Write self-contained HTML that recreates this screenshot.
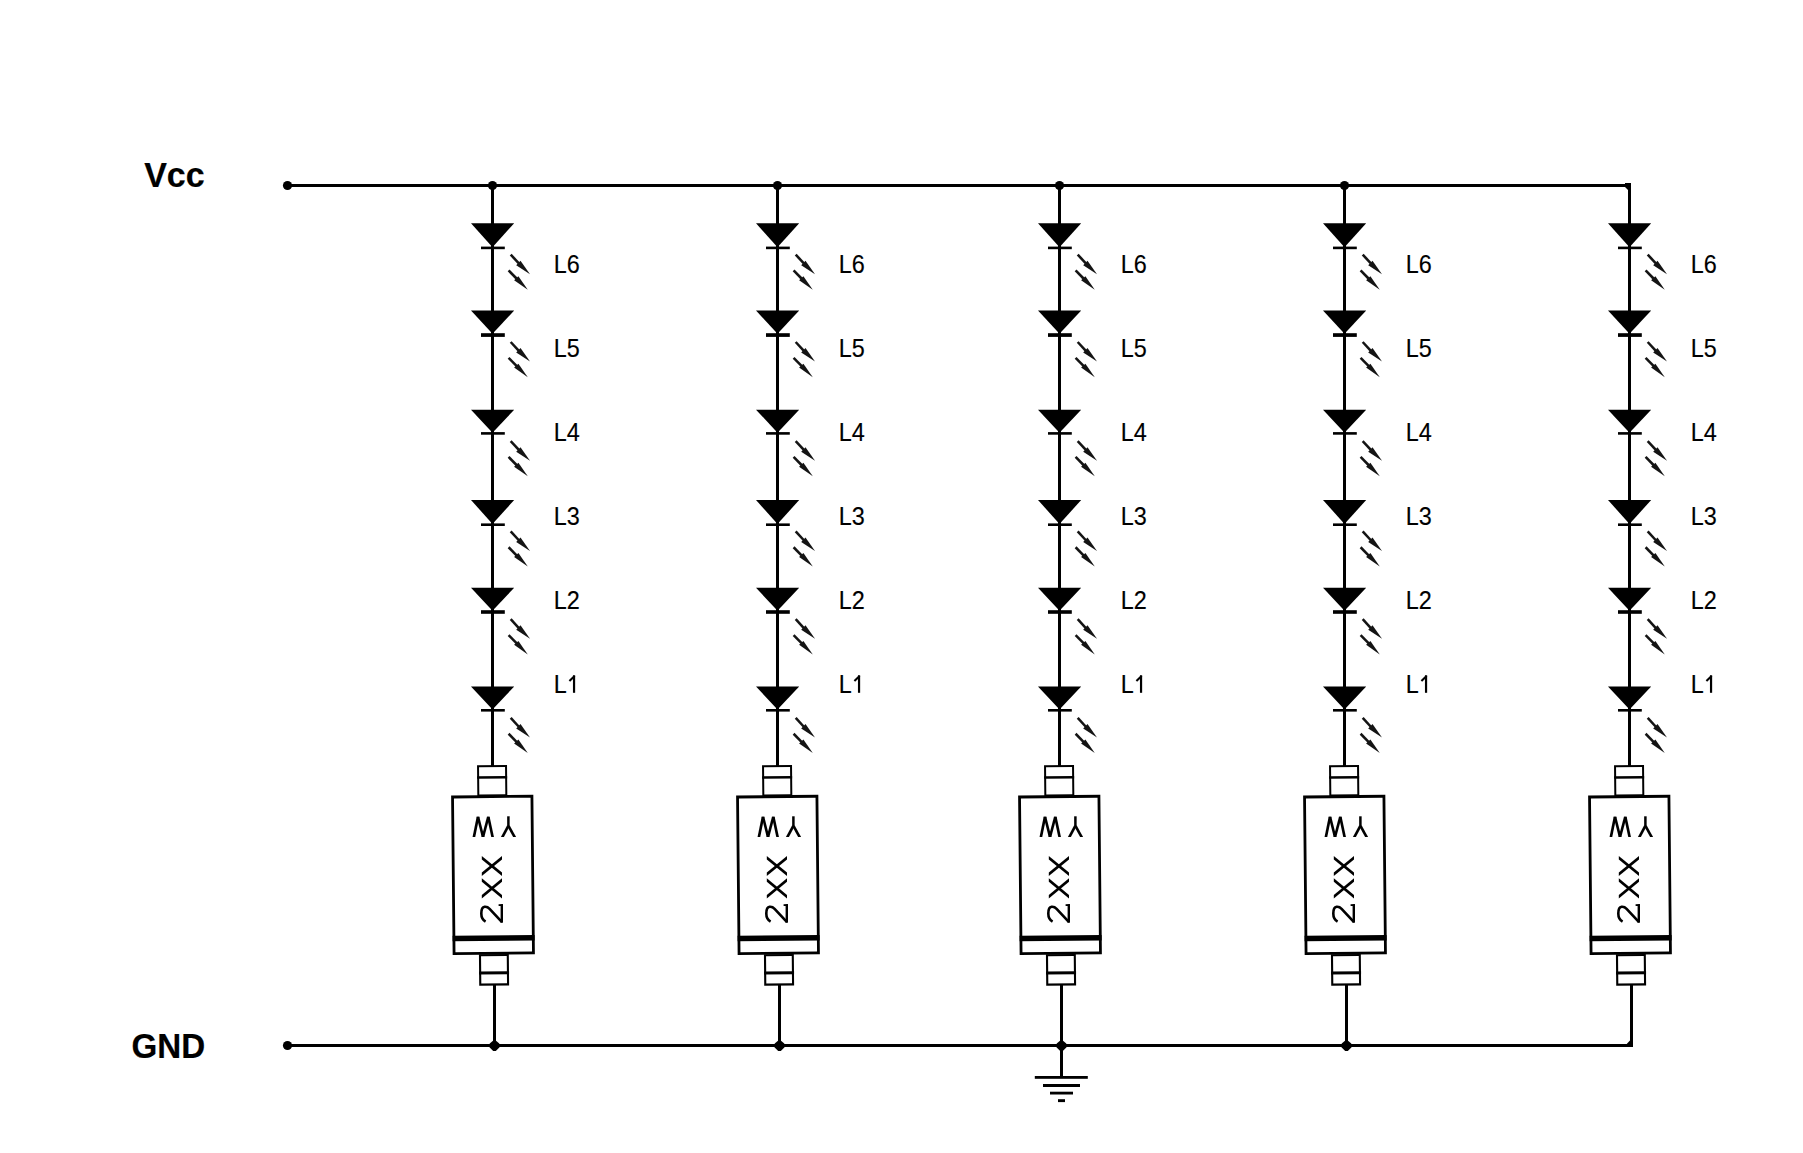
<!DOCTYPE html>
<html><head><meta charset="utf-8"><style>
html,body{margin:0;padding:0;background:#fff;width:1803px;height:1153px;overflow:hidden}
svg{display:block}
.lb{font-family:"Liberation Sans",sans-serif;font-size:24px;fill:#000;stroke:#000;stroke-width:0.15px}
.big{font-family:"Liberation Sans",sans-serif;font-size:34px;font-weight:bold;fill:#000;stroke:#000;stroke-width:0.2px}
</style></head><body>
<svg width="1803" height="1153" viewBox="0 0 1803 1153">
<rect x="0" y="0" width="1803" height="1153" fill="#fff"/>
<text transform="translate(144.2 187) scale(1 1.03)" class="big">Vcc</text>
<text transform="translate(131.5 1057.8) scale(0.975 1.03)" class="big">GND</text>
<rect x="287.5" y="184" width="1343.5" height="3"/>
<circle cx="287.5" cy="185.5" r="4.6"/>
<circle cx="492.5" cy="185.5" r="4.6"/>
<circle cx="777.5" cy="185.5" r="4.6"/>
<circle cx="1059.5" cy="185.5" r="4.6"/>
<circle cx="1344.5" cy="185.5" r="4.6"/>
<polygon points="1625,183 1631,183 1631,190 1628,190 1625,187"/>
<g transform="translate(0 0)">
<rect x="491" y="185" width="3" height="581"/>
<polygon points="471,223.2 514.2,223.2 492.5,247.2"/>
<rect x="481" y="246.6" width="23.8" height="2.6"/>
<line x1="510.7" y1="254.60" x2="518.85" y2="263.45" stroke="#141414" stroke-width="2.55"/>
<polygon fill="#141414" points="520.50,260.70 530.00,274.20 516.20,265.20"/>
<line x1="508.6" y1="270.45" x2="516.75" y2="278.75" stroke="#141414" stroke-width="2.55"/>
<polygon fill="#141414" points="518.40,276.30 527.80,289.80 514.10,280.20"/>
<polygon points="471,310.6 514.2,310.6 492.5,333.8"/>
<rect x="481" y="333.2" width="23.8" height="3.7"/>
<line x1="510.7" y1="342.00" x2="518.85" y2="350.85" stroke="#141414" stroke-width="2.55"/>
<polygon fill="#141414" points="520.50,348.10 530.00,361.60 516.20,352.60"/>
<line x1="508.6" y1="357.85" x2="516.75" y2="366.15" stroke="#141414" stroke-width="2.55"/>
<polygon fill="#141414" points="518.40,363.70 527.80,377.20 514.10,367.60"/>
<polygon points="471,409.7 514.2,409.7 492.5,432.7"/>
<rect x="481" y="432.1" width="23.8" height="2.6"/>
<line x1="510.7" y1="441.10" x2="518.85" y2="449.95" stroke="#141414" stroke-width="2.55"/>
<polygon fill="#141414" points="520.50,447.20 530.00,460.70 516.20,451.70"/>
<line x1="508.6" y1="456.95" x2="516.75" y2="465.25" stroke="#141414" stroke-width="2.55"/>
<polygon fill="#141414" points="518.40,462.80 527.80,476.30 514.10,466.70"/>
<polygon points="471,500.0 514.2,500.0 492.5,524.0"/>
<rect x="481" y="523.4" width="23.8" height="2.6"/>
<line x1="510.7" y1="531.40" x2="518.85" y2="540.25" stroke="#141414" stroke-width="2.55"/>
<polygon fill="#141414" points="520.50,537.50 530.00,551.00 516.20,542.00"/>
<line x1="508.6" y1="547.25" x2="516.75" y2="555.55" stroke="#141414" stroke-width="2.55"/>
<polygon fill="#141414" points="518.40,553.10 527.80,566.60 514.10,557.00"/>
<polygon points="471,587.8 514.2,587.8 492.5,610.8"/>
<rect x="481" y="610.2" width="23.8" height="3.6"/>
<line x1="510.7" y1="619.20" x2="518.85" y2="628.05" stroke="#141414" stroke-width="2.55"/>
<polygon fill="#141414" points="520.50,625.30 530.00,638.80 516.20,629.80"/>
<line x1="508.6" y1="635.05" x2="516.75" y2="643.35" stroke="#141414" stroke-width="2.55"/>
<polygon fill="#141414" points="518.40,640.90 527.80,654.40 514.10,644.80"/>
<polygon points="471,686.5 514.2,686.5 492.5,709.6"/>
<rect x="481" y="709.0" width="23.8" height="2.6"/>
<line x1="510.7" y1="717.90" x2="518.85" y2="726.75" stroke="#141414" stroke-width="2.55"/>
<polygon fill="#141414" points="520.50,724.00 530.00,737.50 516.20,728.50"/>
<line x1="508.6" y1="733.75" x2="516.75" y2="742.05" stroke="#141414" stroke-width="2.55"/>
<polygon fill="#141414" points="518.40,739.60 527.80,753.10 514.10,743.50"/>
<text transform="translate(553.8 272.6) scale(0.975 1.045)" class="lb">L6</text>
<text transform="translate(553.8 356.6) scale(0.975 1.045)" class="lb">L5</text>
<text transform="translate(553.8 440.6) scale(0.975 1.045)" class="lb">L4</text>
<text transform="translate(553.8 524.6) scale(0.975 1.045)" class="lb">L3</text>
<text transform="translate(553.8 608.6) scale(0.975 1.045)" class="lb">L2</text>
<text transform="translate(553.8 692.6) scale(0.975 1.045)" class="lb">L</text>
<rect x="572.95" y="675.3" width="2.2" height="17.5"/>
<line x1="574.6" y1="675.9" x2="569.4" y2="680.9" stroke="#000" stroke-width="2.1"/>
<g transform="rotate(-0.56 493 875)">
<rect x="479.1" y="766.2" width="28" height="29.2" fill="none" stroke="#000" stroke-width="2"/>
<rect x="478.1" y="776.2" width="30" height="2.4"/>
<rect x="453.3" y="796.6" width="79.4" height="156.7" fill="none" stroke="#000" stroke-width="2.8"/>
<rect x="452" y="935.3" width="82" height="5.5"/>
<rect x="479.2" y="955.1" width="27.8" height="29.4" fill="none" stroke="#000" stroke-width="2.1"/>
<rect x="478.1" y="971.4" width="30" height="3"/>
</g>
<polygon points="472.55,837.00 475.25,837.00 479.35,816.70 476.65,816.70"/>
<polygon points="476.65,816.70 479.35,816.70 484.35,837.00 481.65,837.00"/>
<polygon points="481.65,837.00 484.35,837.00 489.65,816.70 486.95,816.70"/>
<polygon points="486.95,816.70 489.65,816.70 493.95,837.00 491.25,837.00"/>
<polygon points="507.15,816.30 509.65,816.30 509.65,827.80 507.15,827.80"/>
<polygon points="506.90,825.80 509.90,825.80 503.90,837.00 500.90,837.00"/>
<polygon points="506.90,825.80 509.90,825.80 516.10,837.00 513.10,837.00"/>
<polygon points="481.8,855.9 481.8,859.4 502,876.1 502,872.6"/>
<polygon points="502,855.9 502,859.4 481.8,876.1 481.8,872.6"/>
<polygon points="481.8,878.2 481.8,881.7 502,898.4 502,894.9"/>
<polygon points="502,878.2 502,881.7 481.8,898.4 481.8,894.9"/>
<path d="M502 922.2 L489.6 908.8 C488.2 907.3 486.6 906.6 484.6 906.8 C482.2 907.2 481.3 909.8 481.3 913.4 C481.3 917.4 482.8 920 485.6 921.6" fill="none" stroke="#000" stroke-width="2.6"/>
<rect x="500.6" y="904.2" width="2.4" height="18.5"/>
<rect x="498.6" y="904.2" width="4.4" height="1.8"/>
<rect x="493" y="985" width="3" height="61"/>
</g>
<g transform="translate(285 0)">
<rect x="491" y="185" width="3" height="581"/>
<polygon points="471,223.2 514.2,223.2 492.5,247.2"/>
<rect x="481" y="246.6" width="23.8" height="2.6"/>
<line x1="510.7" y1="254.60" x2="518.85" y2="263.45" stroke="#141414" stroke-width="2.55"/>
<polygon fill="#141414" points="520.50,260.70 530.00,274.20 516.20,265.20"/>
<line x1="508.6" y1="270.45" x2="516.75" y2="278.75" stroke="#141414" stroke-width="2.55"/>
<polygon fill="#141414" points="518.40,276.30 527.80,289.80 514.10,280.20"/>
<polygon points="471,310.6 514.2,310.6 492.5,333.8"/>
<rect x="481" y="333.2" width="23.8" height="3.7"/>
<line x1="510.7" y1="342.00" x2="518.85" y2="350.85" stroke="#141414" stroke-width="2.55"/>
<polygon fill="#141414" points="520.50,348.10 530.00,361.60 516.20,352.60"/>
<line x1="508.6" y1="357.85" x2="516.75" y2="366.15" stroke="#141414" stroke-width="2.55"/>
<polygon fill="#141414" points="518.40,363.70 527.80,377.20 514.10,367.60"/>
<polygon points="471,409.7 514.2,409.7 492.5,432.7"/>
<rect x="481" y="432.1" width="23.8" height="2.6"/>
<line x1="510.7" y1="441.10" x2="518.85" y2="449.95" stroke="#141414" stroke-width="2.55"/>
<polygon fill="#141414" points="520.50,447.20 530.00,460.70 516.20,451.70"/>
<line x1="508.6" y1="456.95" x2="516.75" y2="465.25" stroke="#141414" stroke-width="2.55"/>
<polygon fill="#141414" points="518.40,462.80 527.80,476.30 514.10,466.70"/>
<polygon points="471,500.0 514.2,500.0 492.5,524.0"/>
<rect x="481" y="523.4" width="23.8" height="2.6"/>
<line x1="510.7" y1="531.40" x2="518.85" y2="540.25" stroke="#141414" stroke-width="2.55"/>
<polygon fill="#141414" points="520.50,537.50 530.00,551.00 516.20,542.00"/>
<line x1="508.6" y1="547.25" x2="516.75" y2="555.55" stroke="#141414" stroke-width="2.55"/>
<polygon fill="#141414" points="518.40,553.10 527.80,566.60 514.10,557.00"/>
<polygon points="471,587.8 514.2,587.8 492.5,610.8"/>
<rect x="481" y="610.2" width="23.8" height="3.6"/>
<line x1="510.7" y1="619.20" x2="518.85" y2="628.05" stroke="#141414" stroke-width="2.55"/>
<polygon fill="#141414" points="520.50,625.30 530.00,638.80 516.20,629.80"/>
<line x1="508.6" y1="635.05" x2="516.75" y2="643.35" stroke="#141414" stroke-width="2.55"/>
<polygon fill="#141414" points="518.40,640.90 527.80,654.40 514.10,644.80"/>
<polygon points="471,686.5 514.2,686.5 492.5,709.6"/>
<rect x="481" y="709.0" width="23.8" height="2.6"/>
<line x1="510.7" y1="717.90" x2="518.85" y2="726.75" stroke="#141414" stroke-width="2.55"/>
<polygon fill="#141414" points="520.50,724.00 530.00,737.50 516.20,728.50"/>
<line x1="508.6" y1="733.75" x2="516.75" y2="742.05" stroke="#141414" stroke-width="2.55"/>
<polygon fill="#141414" points="518.40,739.60 527.80,753.10 514.10,743.50"/>
<text transform="translate(553.8 272.6) scale(0.975 1.045)" class="lb">L6</text>
<text transform="translate(553.8 356.6) scale(0.975 1.045)" class="lb">L5</text>
<text transform="translate(553.8 440.6) scale(0.975 1.045)" class="lb">L4</text>
<text transform="translate(553.8 524.6) scale(0.975 1.045)" class="lb">L3</text>
<text transform="translate(553.8 608.6) scale(0.975 1.045)" class="lb">L2</text>
<text transform="translate(553.8 692.6) scale(0.975 1.045)" class="lb">L</text>
<rect x="572.95" y="675.3" width="2.2" height="17.5"/>
<line x1="574.6" y1="675.9" x2="569.4" y2="680.9" stroke="#000" stroke-width="2.1"/>
<g transform="rotate(-0.56 493 875)">
<rect x="479.1" y="766.2" width="28" height="29.2" fill="none" stroke="#000" stroke-width="2"/>
<rect x="478.1" y="776.2" width="30" height="2.4"/>
<rect x="453.3" y="796.6" width="79.4" height="156.7" fill="none" stroke="#000" stroke-width="2.8"/>
<rect x="452" y="935.3" width="82" height="5.5"/>
<rect x="479.2" y="955.1" width="27.8" height="29.4" fill="none" stroke="#000" stroke-width="2.1"/>
<rect x="478.1" y="971.4" width="30" height="3"/>
</g>
<polygon points="472.55,837.00 475.25,837.00 479.35,816.70 476.65,816.70"/>
<polygon points="476.65,816.70 479.35,816.70 484.35,837.00 481.65,837.00"/>
<polygon points="481.65,837.00 484.35,837.00 489.65,816.70 486.95,816.70"/>
<polygon points="486.95,816.70 489.65,816.70 493.95,837.00 491.25,837.00"/>
<polygon points="507.15,816.30 509.65,816.30 509.65,827.80 507.15,827.80"/>
<polygon points="506.90,825.80 509.90,825.80 503.90,837.00 500.90,837.00"/>
<polygon points="506.90,825.80 509.90,825.80 516.10,837.00 513.10,837.00"/>
<polygon points="481.8,855.9 481.8,859.4 502,876.1 502,872.6"/>
<polygon points="502,855.9 502,859.4 481.8,876.1 481.8,872.6"/>
<polygon points="481.8,878.2 481.8,881.7 502,898.4 502,894.9"/>
<polygon points="502,878.2 502,881.7 481.8,898.4 481.8,894.9"/>
<path d="M502 922.2 L489.6 908.8 C488.2 907.3 486.6 906.6 484.6 906.8 C482.2 907.2 481.3 909.8 481.3 913.4 C481.3 917.4 482.8 920 485.6 921.6" fill="none" stroke="#000" stroke-width="2.6"/>
<rect x="500.6" y="904.2" width="2.4" height="18.5"/>
<rect x="498.6" y="904.2" width="4.4" height="1.8"/>
<rect x="493" y="985" width="3" height="61"/>
</g>
<g transform="translate(567 0)">
<rect x="491" y="185" width="3" height="581"/>
<polygon points="471,223.2 514.2,223.2 492.5,247.2"/>
<rect x="481" y="246.6" width="23.8" height="2.6"/>
<line x1="510.7" y1="254.60" x2="518.85" y2="263.45" stroke="#141414" stroke-width="2.55"/>
<polygon fill="#141414" points="520.50,260.70 530.00,274.20 516.20,265.20"/>
<line x1="508.6" y1="270.45" x2="516.75" y2="278.75" stroke="#141414" stroke-width="2.55"/>
<polygon fill="#141414" points="518.40,276.30 527.80,289.80 514.10,280.20"/>
<polygon points="471,310.6 514.2,310.6 492.5,333.8"/>
<rect x="481" y="333.2" width="23.8" height="3.7"/>
<line x1="510.7" y1="342.00" x2="518.85" y2="350.85" stroke="#141414" stroke-width="2.55"/>
<polygon fill="#141414" points="520.50,348.10 530.00,361.60 516.20,352.60"/>
<line x1="508.6" y1="357.85" x2="516.75" y2="366.15" stroke="#141414" stroke-width="2.55"/>
<polygon fill="#141414" points="518.40,363.70 527.80,377.20 514.10,367.60"/>
<polygon points="471,409.7 514.2,409.7 492.5,432.7"/>
<rect x="481" y="432.1" width="23.8" height="2.6"/>
<line x1="510.7" y1="441.10" x2="518.85" y2="449.95" stroke="#141414" stroke-width="2.55"/>
<polygon fill="#141414" points="520.50,447.20 530.00,460.70 516.20,451.70"/>
<line x1="508.6" y1="456.95" x2="516.75" y2="465.25" stroke="#141414" stroke-width="2.55"/>
<polygon fill="#141414" points="518.40,462.80 527.80,476.30 514.10,466.70"/>
<polygon points="471,500.0 514.2,500.0 492.5,524.0"/>
<rect x="481" y="523.4" width="23.8" height="2.6"/>
<line x1="510.7" y1="531.40" x2="518.85" y2="540.25" stroke="#141414" stroke-width="2.55"/>
<polygon fill="#141414" points="520.50,537.50 530.00,551.00 516.20,542.00"/>
<line x1="508.6" y1="547.25" x2="516.75" y2="555.55" stroke="#141414" stroke-width="2.55"/>
<polygon fill="#141414" points="518.40,553.10 527.80,566.60 514.10,557.00"/>
<polygon points="471,587.8 514.2,587.8 492.5,610.8"/>
<rect x="481" y="610.2" width="23.8" height="3.6"/>
<line x1="510.7" y1="619.20" x2="518.85" y2="628.05" stroke="#141414" stroke-width="2.55"/>
<polygon fill="#141414" points="520.50,625.30 530.00,638.80 516.20,629.80"/>
<line x1="508.6" y1="635.05" x2="516.75" y2="643.35" stroke="#141414" stroke-width="2.55"/>
<polygon fill="#141414" points="518.40,640.90 527.80,654.40 514.10,644.80"/>
<polygon points="471,686.5 514.2,686.5 492.5,709.6"/>
<rect x="481" y="709.0" width="23.8" height="2.6"/>
<line x1="510.7" y1="717.90" x2="518.85" y2="726.75" stroke="#141414" stroke-width="2.55"/>
<polygon fill="#141414" points="520.50,724.00 530.00,737.50 516.20,728.50"/>
<line x1="508.6" y1="733.75" x2="516.75" y2="742.05" stroke="#141414" stroke-width="2.55"/>
<polygon fill="#141414" points="518.40,739.60 527.80,753.10 514.10,743.50"/>
<text transform="translate(553.8 272.6) scale(0.975 1.045)" class="lb">L6</text>
<text transform="translate(553.8 356.6) scale(0.975 1.045)" class="lb">L5</text>
<text transform="translate(553.8 440.6) scale(0.975 1.045)" class="lb">L4</text>
<text transform="translate(553.8 524.6) scale(0.975 1.045)" class="lb">L3</text>
<text transform="translate(553.8 608.6) scale(0.975 1.045)" class="lb">L2</text>
<text transform="translate(553.8 692.6) scale(0.975 1.045)" class="lb">L</text>
<rect x="572.95" y="675.3" width="2.2" height="17.5"/>
<line x1="574.6" y1="675.9" x2="569.4" y2="680.9" stroke="#000" stroke-width="2.1"/>
<g transform="rotate(-0.56 493 875)">
<rect x="479.1" y="766.2" width="28" height="29.2" fill="none" stroke="#000" stroke-width="2"/>
<rect x="478.1" y="776.2" width="30" height="2.4"/>
<rect x="453.3" y="796.6" width="79.4" height="156.7" fill="none" stroke="#000" stroke-width="2.8"/>
<rect x="452" y="935.3" width="82" height="5.5"/>
<rect x="479.2" y="955.1" width="27.8" height="29.4" fill="none" stroke="#000" stroke-width="2.1"/>
<rect x="478.1" y="971.4" width="30" height="3"/>
</g>
<polygon points="472.55,837.00 475.25,837.00 479.35,816.70 476.65,816.70"/>
<polygon points="476.65,816.70 479.35,816.70 484.35,837.00 481.65,837.00"/>
<polygon points="481.65,837.00 484.35,837.00 489.65,816.70 486.95,816.70"/>
<polygon points="486.95,816.70 489.65,816.70 493.95,837.00 491.25,837.00"/>
<polygon points="507.15,816.30 509.65,816.30 509.65,827.80 507.15,827.80"/>
<polygon points="506.90,825.80 509.90,825.80 503.90,837.00 500.90,837.00"/>
<polygon points="506.90,825.80 509.90,825.80 516.10,837.00 513.10,837.00"/>
<polygon points="481.8,855.9 481.8,859.4 502,876.1 502,872.6"/>
<polygon points="502,855.9 502,859.4 481.8,876.1 481.8,872.6"/>
<polygon points="481.8,878.2 481.8,881.7 502,898.4 502,894.9"/>
<polygon points="502,878.2 502,881.7 481.8,898.4 481.8,894.9"/>
<path d="M502 922.2 L489.6 908.8 C488.2 907.3 486.6 906.6 484.6 906.8 C482.2 907.2 481.3 909.8 481.3 913.4 C481.3 917.4 482.8 920 485.6 921.6" fill="none" stroke="#000" stroke-width="2.6"/>
<rect x="500.6" y="904.2" width="2.4" height="18.5"/>
<rect x="498.6" y="904.2" width="4.4" height="1.8"/>
<rect x="493" y="985" width="3" height="61"/>
</g>
<g transform="translate(852 0)">
<rect x="491" y="185" width="3" height="581"/>
<polygon points="471,223.2 514.2,223.2 492.5,247.2"/>
<rect x="481" y="246.6" width="23.8" height="2.6"/>
<line x1="510.7" y1="254.60" x2="518.85" y2="263.45" stroke="#141414" stroke-width="2.55"/>
<polygon fill="#141414" points="520.50,260.70 530.00,274.20 516.20,265.20"/>
<line x1="508.6" y1="270.45" x2="516.75" y2="278.75" stroke="#141414" stroke-width="2.55"/>
<polygon fill="#141414" points="518.40,276.30 527.80,289.80 514.10,280.20"/>
<polygon points="471,310.6 514.2,310.6 492.5,333.8"/>
<rect x="481" y="333.2" width="23.8" height="3.7"/>
<line x1="510.7" y1="342.00" x2="518.85" y2="350.85" stroke="#141414" stroke-width="2.55"/>
<polygon fill="#141414" points="520.50,348.10 530.00,361.60 516.20,352.60"/>
<line x1="508.6" y1="357.85" x2="516.75" y2="366.15" stroke="#141414" stroke-width="2.55"/>
<polygon fill="#141414" points="518.40,363.70 527.80,377.20 514.10,367.60"/>
<polygon points="471,409.7 514.2,409.7 492.5,432.7"/>
<rect x="481" y="432.1" width="23.8" height="2.6"/>
<line x1="510.7" y1="441.10" x2="518.85" y2="449.95" stroke="#141414" stroke-width="2.55"/>
<polygon fill="#141414" points="520.50,447.20 530.00,460.70 516.20,451.70"/>
<line x1="508.6" y1="456.95" x2="516.75" y2="465.25" stroke="#141414" stroke-width="2.55"/>
<polygon fill="#141414" points="518.40,462.80 527.80,476.30 514.10,466.70"/>
<polygon points="471,500.0 514.2,500.0 492.5,524.0"/>
<rect x="481" y="523.4" width="23.8" height="2.6"/>
<line x1="510.7" y1="531.40" x2="518.85" y2="540.25" stroke="#141414" stroke-width="2.55"/>
<polygon fill="#141414" points="520.50,537.50 530.00,551.00 516.20,542.00"/>
<line x1="508.6" y1="547.25" x2="516.75" y2="555.55" stroke="#141414" stroke-width="2.55"/>
<polygon fill="#141414" points="518.40,553.10 527.80,566.60 514.10,557.00"/>
<polygon points="471,587.8 514.2,587.8 492.5,610.8"/>
<rect x="481" y="610.2" width="23.8" height="3.6"/>
<line x1="510.7" y1="619.20" x2="518.85" y2="628.05" stroke="#141414" stroke-width="2.55"/>
<polygon fill="#141414" points="520.50,625.30 530.00,638.80 516.20,629.80"/>
<line x1="508.6" y1="635.05" x2="516.75" y2="643.35" stroke="#141414" stroke-width="2.55"/>
<polygon fill="#141414" points="518.40,640.90 527.80,654.40 514.10,644.80"/>
<polygon points="471,686.5 514.2,686.5 492.5,709.6"/>
<rect x="481" y="709.0" width="23.8" height="2.6"/>
<line x1="510.7" y1="717.90" x2="518.85" y2="726.75" stroke="#141414" stroke-width="2.55"/>
<polygon fill="#141414" points="520.50,724.00 530.00,737.50 516.20,728.50"/>
<line x1="508.6" y1="733.75" x2="516.75" y2="742.05" stroke="#141414" stroke-width="2.55"/>
<polygon fill="#141414" points="518.40,739.60 527.80,753.10 514.10,743.50"/>
<text transform="translate(553.8 272.6) scale(0.975 1.045)" class="lb">L6</text>
<text transform="translate(553.8 356.6) scale(0.975 1.045)" class="lb">L5</text>
<text transform="translate(553.8 440.6) scale(0.975 1.045)" class="lb">L4</text>
<text transform="translate(553.8 524.6) scale(0.975 1.045)" class="lb">L3</text>
<text transform="translate(553.8 608.6) scale(0.975 1.045)" class="lb">L2</text>
<text transform="translate(553.8 692.6) scale(0.975 1.045)" class="lb">L</text>
<rect x="572.95" y="675.3" width="2.2" height="17.5"/>
<line x1="574.6" y1="675.9" x2="569.4" y2="680.9" stroke="#000" stroke-width="2.1"/>
<g transform="rotate(-0.56 493 875)">
<rect x="479.1" y="766.2" width="28" height="29.2" fill="none" stroke="#000" stroke-width="2"/>
<rect x="478.1" y="776.2" width="30" height="2.4"/>
<rect x="453.3" y="796.6" width="79.4" height="156.7" fill="none" stroke="#000" stroke-width="2.8"/>
<rect x="452" y="935.3" width="82" height="5.5"/>
<rect x="479.2" y="955.1" width="27.8" height="29.4" fill="none" stroke="#000" stroke-width="2.1"/>
<rect x="478.1" y="971.4" width="30" height="3"/>
</g>
<polygon points="472.55,837.00 475.25,837.00 479.35,816.70 476.65,816.70"/>
<polygon points="476.65,816.70 479.35,816.70 484.35,837.00 481.65,837.00"/>
<polygon points="481.65,837.00 484.35,837.00 489.65,816.70 486.95,816.70"/>
<polygon points="486.95,816.70 489.65,816.70 493.95,837.00 491.25,837.00"/>
<polygon points="507.15,816.30 509.65,816.30 509.65,827.80 507.15,827.80"/>
<polygon points="506.90,825.80 509.90,825.80 503.90,837.00 500.90,837.00"/>
<polygon points="506.90,825.80 509.90,825.80 516.10,837.00 513.10,837.00"/>
<polygon points="481.8,855.9 481.8,859.4 502,876.1 502,872.6"/>
<polygon points="502,855.9 502,859.4 481.8,876.1 481.8,872.6"/>
<polygon points="481.8,878.2 481.8,881.7 502,898.4 502,894.9"/>
<polygon points="502,878.2 502,881.7 481.8,898.4 481.8,894.9"/>
<path d="M502 922.2 L489.6 908.8 C488.2 907.3 486.6 906.6 484.6 906.8 C482.2 907.2 481.3 909.8 481.3 913.4 C481.3 917.4 482.8 920 485.6 921.6" fill="none" stroke="#000" stroke-width="2.6"/>
<rect x="500.6" y="904.2" width="2.4" height="18.5"/>
<rect x="498.6" y="904.2" width="4.4" height="1.8"/>
<rect x="493" y="985" width="3" height="61"/>
</g>
<g transform="translate(1137 0)">
<rect x="491" y="185" width="3" height="581"/>
<polygon points="471,223.2 514.2,223.2 492.5,247.2"/>
<rect x="481" y="246.6" width="23.8" height="2.6"/>
<line x1="510.7" y1="254.60" x2="518.85" y2="263.45" stroke="#141414" stroke-width="2.55"/>
<polygon fill="#141414" points="520.50,260.70 530.00,274.20 516.20,265.20"/>
<line x1="508.6" y1="270.45" x2="516.75" y2="278.75" stroke="#141414" stroke-width="2.55"/>
<polygon fill="#141414" points="518.40,276.30 527.80,289.80 514.10,280.20"/>
<polygon points="471,310.6 514.2,310.6 492.5,333.8"/>
<rect x="481" y="333.2" width="23.8" height="3.7"/>
<line x1="510.7" y1="342.00" x2="518.85" y2="350.85" stroke="#141414" stroke-width="2.55"/>
<polygon fill="#141414" points="520.50,348.10 530.00,361.60 516.20,352.60"/>
<line x1="508.6" y1="357.85" x2="516.75" y2="366.15" stroke="#141414" stroke-width="2.55"/>
<polygon fill="#141414" points="518.40,363.70 527.80,377.20 514.10,367.60"/>
<polygon points="471,409.7 514.2,409.7 492.5,432.7"/>
<rect x="481" y="432.1" width="23.8" height="2.6"/>
<line x1="510.7" y1="441.10" x2="518.85" y2="449.95" stroke="#141414" stroke-width="2.55"/>
<polygon fill="#141414" points="520.50,447.20 530.00,460.70 516.20,451.70"/>
<line x1="508.6" y1="456.95" x2="516.75" y2="465.25" stroke="#141414" stroke-width="2.55"/>
<polygon fill="#141414" points="518.40,462.80 527.80,476.30 514.10,466.70"/>
<polygon points="471,500.0 514.2,500.0 492.5,524.0"/>
<rect x="481" y="523.4" width="23.8" height="2.6"/>
<line x1="510.7" y1="531.40" x2="518.85" y2="540.25" stroke="#141414" stroke-width="2.55"/>
<polygon fill="#141414" points="520.50,537.50 530.00,551.00 516.20,542.00"/>
<line x1="508.6" y1="547.25" x2="516.75" y2="555.55" stroke="#141414" stroke-width="2.55"/>
<polygon fill="#141414" points="518.40,553.10 527.80,566.60 514.10,557.00"/>
<polygon points="471,587.8 514.2,587.8 492.5,610.8"/>
<rect x="481" y="610.2" width="23.8" height="3.6"/>
<line x1="510.7" y1="619.20" x2="518.85" y2="628.05" stroke="#141414" stroke-width="2.55"/>
<polygon fill="#141414" points="520.50,625.30 530.00,638.80 516.20,629.80"/>
<line x1="508.6" y1="635.05" x2="516.75" y2="643.35" stroke="#141414" stroke-width="2.55"/>
<polygon fill="#141414" points="518.40,640.90 527.80,654.40 514.10,644.80"/>
<polygon points="471,686.5 514.2,686.5 492.5,709.6"/>
<rect x="481" y="709.0" width="23.8" height="2.6"/>
<line x1="510.7" y1="717.90" x2="518.85" y2="726.75" stroke="#141414" stroke-width="2.55"/>
<polygon fill="#141414" points="520.50,724.00 530.00,737.50 516.20,728.50"/>
<line x1="508.6" y1="733.75" x2="516.75" y2="742.05" stroke="#141414" stroke-width="2.55"/>
<polygon fill="#141414" points="518.40,739.60 527.80,753.10 514.10,743.50"/>
<text transform="translate(553.8 272.6) scale(0.975 1.045)" class="lb">L6</text>
<text transform="translate(553.8 356.6) scale(0.975 1.045)" class="lb">L5</text>
<text transform="translate(553.8 440.6) scale(0.975 1.045)" class="lb">L4</text>
<text transform="translate(553.8 524.6) scale(0.975 1.045)" class="lb">L3</text>
<text transform="translate(553.8 608.6) scale(0.975 1.045)" class="lb">L2</text>
<text transform="translate(553.8 692.6) scale(0.975 1.045)" class="lb">L</text>
<rect x="572.95" y="675.3" width="2.2" height="17.5"/>
<line x1="574.6" y1="675.9" x2="569.4" y2="680.9" stroke="#000" stroke-width="2.1"/>
<g transform="rotate(-0.56 493 875)">
<rect x="479.1" y="766.2" width="28" height="29.2" fill="none" stroke="#000" stroke-width="2"/>
<rect x="478.1" y="776.2" width="30" height="2.4"/>
<rect x="453.3" y="796.6" width="79.4" height="156.7" fill="none" stroke="#000" stroke-width="2.8"/>
<rect x="452" y="935.3" width="82" height="5.5"/>
<rect x="479.2" y="955.1" width="27.8" height="29.4" fill="none" stroke="#000" stroke-width="2.1"/>
<rect x="478.1" y="971.4" width="30" height="3"/>
</g>
<polygon points="472.55,837.00 475.25,837.00 479.35,816.70 476.65,816.70"/>
<polygon points="476.65,816.70 479.35,816.70 484.35,837.00 481.65,837.00"/>
<polygon points="481.65,837.00 484.35,837.00 489.65,816.70 486.95,816.70"/>
<polygon points="486.95,816.70 489.65,816.70 493.95,837.00 491.25,837.00"/>
<polygon points="507.15,816.30 509.65,816.30 509.65,827.80 507.15,827.80"/>
<polygon points="506.90,825.80 509.90,825.80 503.90,837.00 500.90,837.00"/>
<polygon points="506.90,825.80 509.90,825.80 516.10,837.00 513.10,837.00"/>
<polygon points="481.8,855.9 481.8,859.4 502,876.1 502,872.6"/>
<polygon points="502,855.9 502,859.4 481.8,876.1 481.8,872.6"/>
<polygon points="481.8,878.2 481.8,881.7 502,898.4 502,894.9"/>
<polygon points="502,878.2 502,881.7 481.8,898.4 481.8,894.9"/>
<path d="M502 922.2 L489.6 908.8 C488.2 907.3 486.6 906.6 484.6 906.8 C482.2 907.2 481.3 909.8 481.3 913.4 C481.3 917.4 482.8 920 485.6 921.6" fill="none" stroke="#000" stroke-width="2.6"/>
<rect x="500.6" y="904.2" width="2.4" height="18.5"/>
<rect x="498.6" y="904.2" width="4.4" height="1.8"/>
<rect x="493" y="985" width="3" height="61"/>
</g>
<rect x="287.5" y="1044" width="1345.5" height="3"/>
<polygon points="1626.5,1044.2 1630.2,1044.2 1630.2,1040.3"/>
<circle cx="287.5" cy="1045.5" r="4.6"/>
<polygon points="493.3,1040.4 495.7,1040.4 499.3,1043.6 499.3,1047.4 495.8,1050.9 493.2,1050.9 489.7,1047.4 489.7,1043.6"/>
<polygon points="778.3,1040.4 780.7,1040.4 784.3,1043.6 784.3,1047.4 780.8,1050.9 778.2,1050.9 774.7,1047.4 774.7,1043.6"/>
<polygon points="1060.3,1040.4 1062.7,1040.4 1066.3,1043.6 1066.3,1047.4 1062.8,1050.9 1060.2,1050.9 1056.7,1047.4 1056.7,1043.6"/>
<polygon points="1345.3,1040.4 1347.7,1040.4 1351.3,1043.6 1351.3,1047.4 1347.8,1050.9 1345.2,1050.9 1341.7,1047.4 1341.7,1043.6"/>
<rect x="1060" y="1045" width="3" height="32"/>
<rect x="1034.8" y="1076" width="53" height="2.8"/>
<rect x="1043" y="1084" width="37" height="3"/>
<rect x="1050" y="1091.7" width="23" height="2.8"/>
<rect x="1058" y="1099.2" width="7" height="2.9"/>
</svg>
</body></html>
